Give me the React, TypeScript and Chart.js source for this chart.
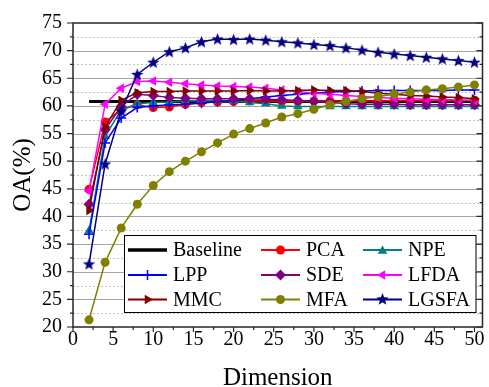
import React, { useEffect, useRef } from 'react';
import { Chart, registerables } from 'chart.js';

Chart.register(...registerables);

// Reduced dimension (x) and overall accuracy OA (%) of each method.
const dims = [2, 4, 6, 8, 10, 12, 14, 16, 18, 20, 22, 24, 26, 28, 30, 32, 34, 36, 38, 40, 42, 44, 46, 48, 50];
const baselineOA = 60.8;
const pcaOA = [44.9, 57.1, 59.3, 60.2, 59.7, 59.8, 60.3, 60.6, 60.7, 60.8, 60.9, 60.9, 60.8, 60.8, 60.9, 60.9, 60.9, 60.9, 60.9, 61.0, 61.0, 61.0, 61.0, 61.0, 61.0];
const npeOA = [37.4, 54.5, 59.3, 60.4, 60.6, 60.7, 60.9, 61.0, 61.0, 60.9, 60.6, 60.4, 60.0, 59.9, 59.9, 59.9, 59.9, 59.9, 59.9, 59.9, 59.9, 59.9, 59.9, 59.9, 59.9];
const lppOA = [36.8, 53.3, 57.8, 59.7, 60.0, 60.2, 60.3, 60.5, 60.8, 61.0, 61.3, 61.6, 61.9, 62.1, 62.3, 62.5, 62.6, 62.7, 62.8, 62.8, 62.8, 62.8, 62.8, 62.9, 62.9];
const sdeOA = [42.2, 55.7, 59.9, 62.1, 61.9, 61.5, 61.4, 61.3, 61.3, 61.3, 61.3, 61.2, 61.1, 61.0, 60.8, 60.6, 60.4, 60.3, 60.3, 60.3, 60.2, 60.2, 60.2, 60.2, 60.2];
const lfdaOA = [44.6, 60.3, 63.2, 64.4, 64.5, 64.3, 64.0, 63.8, 63.6, 63.5, 63.4, 63.2, 62.9, 62.6, 62.3, 62.1, 61.9, 61.7, 61.5, 61.4, 61.3, 61.2, 61.1, 61.1, 61.0];
const mmcOA = [41.1, 56.2, 61.0, 62.4, 62.6, 62.6, 62.7, 62.7, 62.7, 62.7, 62.8, 62.7, 62.7, 62.8, 62.9, 62.8, 62.8, 62.6, 62.3, 62.1, 61.9, 61.8, 61.6, 61.5, 61.3];
const mfaOA = [21.3, 31.7, 37.9, 42.2, 45.6, 48.1, 50.0, 51.7, 53.3, 54.9, 55.9, 56.9, 58.0, 58.6, 59.4, 60.2, 60.8, 61.3, 61.7, 62.1, 62.5, 62.9, 63.1, 63.4, 63.8];
const lgsfaOA = [31.4, 49.5, 59.1, 65.7, 67.9, 69.8, 70.5, 71.6, 72.1, 72.0, 72.1, 71.9, 71.6, 71.4, 71.1, 70.9, 70.5, 70.1, 69.7, 69.4, 69.1, 68.8, 68.5, 68.2, 67.9];

const xTickLabels = ['0', '5', '10', '15', '20', '25', '30', '35', '40', '45', '50'];
const yTickLabels = ['20', '25', '30', '35', '40', '45', '50', '55', '60', '65', '70', '75'];

const FONT = '"Liberation Serif", "Times New Roman", serif';

type Marker = 'none' | 'circle' | 'triUp' | 'triLeft' | 'triRight' | 'diamond' | 'cross' | 'star';

interface Series {
  label: string;
  values: number[];
  color: string;
  marker: Marker;
  order: number;
}

const series: Series[] = [
  { label: 'Baseline', values: dims.map(() => baselineOA), color: '#000000', marker: 'none', order: 10 },
  { label: 'PCA', values: pcaOA, color: '#FF0000', marker: 'circle', order: 8 },
  { label: 'NPE', values: npeOA, color: '#008080', marker: 'triUp', order: 7 },
  { label: 'LPP', values: lppOA, color: '#0000FF', marker: 'cross', order: 6 },
  { label: 'SDE', values: sdeOA, color: '#800080', marker: 'diamond', order: 5 },
  { label: 'LFDA', values: lfdaOA, color: '#FF00FF', marker: 'triLeft', order: 4 },
  { label: 'MMC', values: mmcOA, color: '#800000', marker: 'triRight', order: 3 },
  { label: 'MFA', values: mfaOA, color: '#808000', marker: 'circle', order: 2 },
  { label: 'LGSFA', values: lgsfaOA, color: '#000080', marker: 'star', order: 1 },
];

function starPath(g: CanvasRenderingContext2D, cx: number, cy: number, r: number) {
  const inner = r * 0.42;
  g.beginPath();
  for (let i = 0; i < 10; i++) {
    const ang = -Math.PI / 2 + (i * Math.PI) / 5;
    const rr = i % 2 ? inner : r;
    g.lineTo(cx + rr * Math.cos(ang), cy + rr * Math.sin(ang));
  }
  g.closePath();
}

function starImage(color: string, r: number) {
  const c = document.createElement('canvas');
  const s = Math.ceil(r * 2 + 2);
  c.width = s;
  c.height = s;
  const g = c.getContext('2d')!;
  g.fillStyle = color;
  starPath(g, s / 2, s / 2 + 0.5, r);
  g.fill();
  return c;
}

function triPath(g: CanvasRenderingContext2D, cx: number, cy: number, r: number, rotDeg: number) {
  g.beginPath();
  for (let i = 0; i < 3; i++) {
    const ang = ((rotDeg - 90) * Math.PI) / 180 + (i * 2 * Math.PI) / 3;
    g.lineTo(cx + r * Math.cos(ang), cy + r * Math.sin(ang));
  }
  g.closePath();
}

function drawMarker(g: CanvasRenderingContext2D, m: Marker, x: number, y: number, color: string) {
  g.save();
  g.fillStyle = color;
  g.strokeStyle = color;
  g.lineWidth = 1.5;
  switch (m) {
    case 'circle':
      g.beginPath();
      g.arc(x, y, 4.5, 0, Math.PI * 2);
      g.fill();
      break;
    case 'triUp':
      triPath(g, x, y + 1, 5.5, 0);
      g.fill();
      break;
    case 'triLeft':
      triPath(g, x, y, 5.5, -90);
      g.fill();
      break;
    case 'triRight':
      triPath(g, x, y, 5.5, 90);
      g.fill();
      break;
    case 'diamond':
      g.beginPath();
      g.moveTo(x, y - 5.5);
      g.lineTo(x + 5.5, y);
      g.lineTo(x, y + 5.5);
      g.lineTo(x - 5.5, y);
      g.closePath();
      g.fill();
      break;
    case 'cross':
      g.beginPath();
      g.moveTo(x - 5, y);
      g.lineTo(x + 5, y);
      g.moveTo(x, y - 5);
      g.lineTo(x, y + 5);
      g.stroke();
      break;
    case 'star':
      starPath(g, x, y, 6.5);
      g.fill();
      break;
  }
  g.restore();
}

function pointStyleOf(s: Series): { style: any; rotation: number; radius: number } {
  switch (s.marker) {
    case 'circle':
      return { style: 'circle', rotation: 0, radius: 4.5 };
    case 'triUp':
      return { style: 'triangle', rotation: 0, radius: 5.5 };
    case 'triLeft':
      return { style: 'triangle', rotation: -90, radius: 5.5 };
    case 'triRight':
      return { style: 'triangle', rotation: 90, radius: 5.5 };
    case 'diamond':
      return { style: 'rectRot', rotation: 0, radius: 5.5 };
    case 'cross':
      return { style: 'cross', rotation: 0, radius: 5 };
    case 'star':
      return { style: starImage(s.color, 6.5), rotation: 0, radius: 6.5 };
    default:
      return { style: 'circle', rotation: 0, radius: 0 };
  }
}

// Grid, frame, minor ticks, axis titles and the boxed legend.
const decorPlugin = {
  id: 'decor',
  beforeDatasetsDraw(chart: any) {
    const { ctx, chartArea: a, scales } = chart;
    const y = scales.y;
    ctx.save();
    for (let v = 22.5; v < 75; v += 2.5) {
      const py = Math.round(y.getPixelForValue(v)) + 0.5;
      const major = Math.abs(v % 5) < 1e-6;
      ctx.beginPath();
      ctx.strokeStyle = major ? '#a6a6a6' : '#c4c4c4';
      ctx.lineWidth = 1;
      ctx.setLineDash(major ? [] : [2, 2]);
      ctx.moveTo(a.left, py);
      ctx.lineTo(a.right, py);
      ctx.stroke();
    }
    ctx.restore();
  },
  afterDatasetsDraw(chart: any) {
    const { ctx, chartArea: a, scales } = chart;
    const x = scales.x;
    const y = scales.y;
    ctx.save();
    ctx.setLineDash([]);
    ctx.strokeStyle = '#262626';
    ctx.lineWidth = 1.5;
    ctx.strokeRect(a.left, a.top, a.right - a.left, a.bottom - a.top);

    ctx.lineWidth = 1.2;
    for (let v = 20; v <= 75.001; v += 2.5) {
      const py = y.getPixelForValue(v);
      const len = Math.abs(v % 5) < 1e-6 ? 6 : 3;
      ctx.beginPath();
      ctx.moveTo(a.left - len, py);
      ctx.lineTo(a.left, py);
      ctx.moveTo(a.right, py);
      ctx.lineTo(a.right - len, py);
      ctx.stroke();
    }
    for (let v = 0; v <= 50.001; v += 2.5) {
      const px = x.getPixelForValue(v);
      const len = Math.abs(v % 5) < 1e-6 ? 5 : 3;
      ctx.beginPath();
      ctx.moveTo(px, a.bottom);
      ctx.lineTo(px, a.bottom + len);
      ctx.stroke();
    }

    // axis titles
    ctx.fillStyle = '#000';
    ctx.font = `25px ${FONT}`;
    ctx.textAlign = 'center';
    ctx.textBaseline = 'alphabetic';
    ctx.fillText('Dimension', (a.left + a.right) / 2, 384.5);
    ctx.save();
    ctx.translate(23, (a.top + a.bottom) / 2);
    ctx.rotate(-Math.PI / 2);
    ctx.textBaseline = 'middle';
    ctx.fillText('OA(%)', 0, 0);
    ctx.restore();

    // legend box
    const lx0 = a.left + 51;
    const lx1 = a.right - 7;
    const ly0 = a.bottom - 92;
    const ly1 = a.bottom - 15;
    ctx.fillStyle = '#fff';
    ctx.fillRect(lx0, ly0, lx1 - lx0, ly1 - ly0);
    ctx.strokeStyle = '#000';
    ctx.lineWidth = 1;
    ctx.strokeRect(lx0 + 0.5, ly0 + 0.5, lx1 - lx0, ly1 - ly0);

    const colX = [lx0 + 4, lx0 + 137, lx0 + 239];
    const rowY = [ly0 + 15, ly0 + 40, ly0 + 64.5];
    ctx.font = `20px ${FONT}`;
    ctx.textAlign = 'left';
    ctx.textBaseline = 'middle';
    series.forEach((s, i) => {
      const cx = colX[i % 3];
      const cy = rowY[Math.floor(i / 3)];
      ctx.beginPath();
      ctx.strokeStyle = s.color;
      ctx.lineWidth = s.marker === 'none' ? 3.5 : 2;
      ctx.moveTo(cx, cy);
      ctx.lineTo(cx + 39, cy);
      ctx.stroke();
      if (s.marker !== 'none') drawMarker(ctx, s.marker, cx + 19.5, cy, s.color);
      ctx.fillStyle = '#000';
      ctx.fillText(s.label, cx + 45, cy + 1);
    });
    ctx.restore();
  },
};

export default function App() {
  const ref = useRef<HTMLCanvasElement | null>(null);

  useEffect(() => {
    if (!ref.current) return;
    const datasets = series.map((s) => {
      const ps = pointStyleOf(s);
      return {
        label: s.label,
        data: dims.map((d, i) => ({ x: d, y: s.values[i] })),
        borderColor: s.color,
        backgroundColor: s.color,
        borderWidth: s.marker === 'none' ? 3 : 1.5,
        pointStyle: ps.style,
        rotation: ps.rotation,
        pointRadius: ps.radius,
        pointBorderWidth: s.marker === 'cross' ? 1.5 : 0,
        pointBackgroundColor: s.color,
        pointBorderColor: s.color,
        tension: 0,
        order: s.order,
      };
    });

    const chart = new Chart(ref.current, {
      type: 'line',
      data: { datasets },
      plugins: [decorPlugin],
      options: {
        animation: false,
        responsive: false,
        events: [],
        layout: { padding: { left: 0, right: 5.5, top: 22, bottom: 0 } },
        plugins: { legend: { display: false }, tooltip: { enabled: false } },
        scales: {
          x: {
            type: 'linear',
            min: 0,
            max: 51,
            afterFit: (sc: any) => {
              sc.height = 60;
            },
            grid: { display: false, drawTicks: false },
            border: { display: false },
            ticks: {
              stepSize: 5,
              includeBounds: false,
              autoSkip: false,
              maxRotation: 0,
              padding: 1,
              color: '#000',
              font: { family: FONT, size: 20 },
              callback: (v: any) => {
                const label = String(v);
                return xTickLabels.includes(label) ? label : '';
              },
            },
          },
          y: {
            type: 'linear',
            min: 20,
            max: 75,
            afterFit: (sc: any) => {
              sc.width = 73;
            },
            grid: { display: false, drawTicks: false },
            border: { display: false },
            ticks: {
              stepSize: 5,
              autoSkip: false,
              padding: 11,
              color: '#000',
              font: { family: FONT, size: 20 },
              callback: (v: any) => {
                const label = String(v);
                return yTickLabels.includes(label) ? label : '';
              },
            },
          },
        },
      },
    });
    return () => chart.destroy();
  }, []);

  return (
    <div style={{ position: 'fixed', left: 0, top: 0, width: 489, height: 387, background: '#fff' }}>
      <canvas ref={ref} width={489} height={387} style={{ display: 'block', width: 489, height: 387 }} />
    </div>
  );
}
